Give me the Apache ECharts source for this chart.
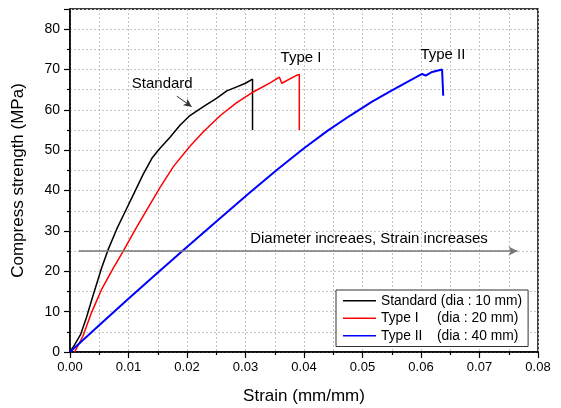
<!DOCTYPE html>
<html><head><meta charset="utf-8">
<script src="https://cdn.jsdelivr.net/npm/echarts@6/dist/echarts.min.js"></script>
<style>html,body{margin:0;padding:0;background:#fff}#c{width:561px;height:408px}</style>
</head><body><div id="c"></div>
<script>
var standardStrain = [0,0.0008,0.0018,0.0028,0.0039,0.0054,0.0065,0.0080,0.0095,0.0110,0.0125,0.0140,0.0152,0.0171,0.0188,0.0205,0.0228,0.0251,0.0268,0.0285,0.0300,0.0312,0.0312];
var standardStress = [0,1.8,4.3,8.5,13.8,20.8,25.3,30.5,35,39.5,44,48,50.2,53.2,56.2,58.6,60.8,62.9,64.7,65.7,66.6,67.6,55];
var type1Strain = [0.0008,0.0022,0.0036,0.0054,0.0074,0.0091,0.0111,0.0128,0.0154,0.0177,0.0205,0.0228,0.0257,0.0285,0.0314,0.0342,0.0358,0.0362,0.0365,0.0388,0.0392,0.0392];
var type1Stress = [0,3.9,9.5,15.5,20.8,25,30.2,34.4,40.8,46,51,54.6,58.6,61.8,64.5,66.7,68.1,66.6,67,68.6,68.8,55];
var type2Strain = [0,0.0040,0.0097,0.0145,0.0194,0.0260,0.0308,0.0355,0.0400,0.0440,0.0479,0.0515,0.0545,0.0576,0.0602,0.0608,0.0619,0.0636,0.0638];
var type2Stress = [0,5.3,12.8,19,25.3,33.6,39.6,45.3,50.5,54.8,58.6,61.9,64.4,66.9,68.9,68.5,69.4,70,63.5];
var seriesNames = ['Standard','Type I','Type II'];
var seriesDia = ['(dia : 10 mm)','(dia : 20 mm)','(dia : 40 mm)'];
var seriesColors = ['#000000','#ff0000','#0000ff'];
var xTicks = [0,0.01,0.02,0.03,0.04,0.05,0.06,0.07,0.08];
var yTicks = [0,10,20,30,40,50,60,70,80];

function zip(a,b){return a.map(function(v,i){return [v,b[i]];});}
var FONT = 'Liberation Sans, Arial, sans-serif';
var chart = echarts.init(document.getElementById('c'));
var gridLine = {show:true,lineStyle:{color:'#c4c4c4',type:[2,2],width:1}};
chart.setOption({
  animation:false,
  backgroundColor:'#fff',
  grid:{left:70,right:23,top:9,bottom:56,outerBoundsMode:'none',containLabel:false,show:true,borderColor:'#000',borderWidth:1.5,backgroundColor:'transparent'},
  xAxis:{type:'value',min:0,max:0.08,interval:0.01,
    name:'Strain (mm/mm)',nameLocation:'middle',nameGap:36,
    nameTextStyle:{fontFamily:FONT,fontSize:17,color:'#000'},
    axisLine:{show:true,onZero:false,lineStyle:{color:'#000',width:1.5}},
    axisTick:{show:true,inside:false,length:6,lineStyle:{color:'#000',width:1.2}},
    minorTick:{show:true,splitNumber:2,length:3,lineStyle:{color:'#000',width:1.2}},
    splitLine:gridLine,minorSplitLine:gridLine,
    axisLabel:{fontFamily:FONT,fontSize:13,color:'#000',margin:9,formatter:function(v){return v.toFixed(2);}}
  },
  yAxis:{type:'value',min:0,max:85,interval:10,
    name:'Compress strength (MPa)',nameLocation:'middle',nameGap:43,
    nameTextStyle:{fontFamily:FONT,fontSize:17,color:'#000'},
    axisLine:{show:true,onZero:false,lineStyle:{color:'#000',width:1.5}},
    axisTick:{show:true,inside:false,length:6,lineStyle:{color:'#000',width:1.2}},
    minorTick:{show:true,splitNumber:2,length:3,lineStyle:{color:'#000',width:1.2}},
    splitLine:gridLine,minorSplitLine:gridLine,
    axisLabel:{fontFamily:FONT,fontSize:14,color:'#000',margin:10,
      formatter:function(v){return yTicks.indexOf(v)>=0?String(v):'';}}
  },
  legend:{orient:'vertical',left:336,top:290,
    padding:[3,6,3,7],itemGap:2,itemWidth:33,itemHeight:1.5,
    backgroundColor:'#fff',borderColor:'#333',borderWidth:1,
    data:seriesNames.map(function(n){return {name:n,icon:'rect'};}),
    formatter:function(name){var i=seriesNames.indexOf(name);
      if(i===0) return '{a|'+name+' }{b|'+seriesDia[i]+'}';
      return '{c|'+name+'}{b|'+seriesDia[i]+'}';},
    textStyle:{fontFamily:FONT,fontSize:13.8,color:'#000',lineHeight:15.5,
      rich:{a:{fontFamily:FONT,fontSize:13.8},b:{fontFamily:FONT,fontSize:13.8},c:{fontFamily:FONT,fontSize:13.8,width:56}}}
  },
  series:[
    {name:seriesNames[0],type:'line',data:zip(standardStrain,standardStress),symbol:'none',
      lineStyle:{color:seriesColors[0],width:1.5},itemStyle:{color:seriesColors[0]},z:3,
      markLine:{silent:true,symbol:['none','arrow'],symbolSize:[6,8],label:{show:false},
        lineStyle:{color:'#333',width:1,type:'solid'},
        data:[[{coord:[0.01826,63.4]},{coord:[0.0208,60.8]}]]}},
    {name:seriesNames[1],type:'line',data:zip(type1Strain,type1Stress),symbol:'none',
      lineStyle:{color:seriesColors[1],width:1.5},itemStyle:{color:seriesColors[1]},z:3},
    {name:seriesNames[2],type:'line',data:zip(type2Strain,type2Stress),symbol:'none',
      lineStyle:{color:seriesColors[2],width:2},itemStyle:{color:seriesColors[2]},z:3,
      markLine:{silent:true,symbol:['none','arrow'],symbolSize:[7,9],label:{show:false},
        lineStyle:{color:'#777',width:1.5,type:'solid'},
        data:[[{coord:[0.0015,25]},{coord:[0.0765,25]}]]}}
  ]
});
function px(x,y){return chart.convertToPixel({gridIndex:0},[x,y]);}
var labels = [
  {t:'Standard',x:0.01056,y:66.7},
  {t:'Type I',x:0.0360,y:73.3},
  {t:'Type II',x:0.0599,y:74.1},
  {t:'Diameter increaes, Strain increases',x:0.0308,y:28.5}
];
chart.setOption({graphic:labels.map(function(l){var p=px(l.x,l.y);
  return {type:'text',left:p[0],top:p[1]-6,z:10,style:{text:l.t,fontFamily:FONT,fontSize:15,fill:'#000'}};})});
</script></body></html>
